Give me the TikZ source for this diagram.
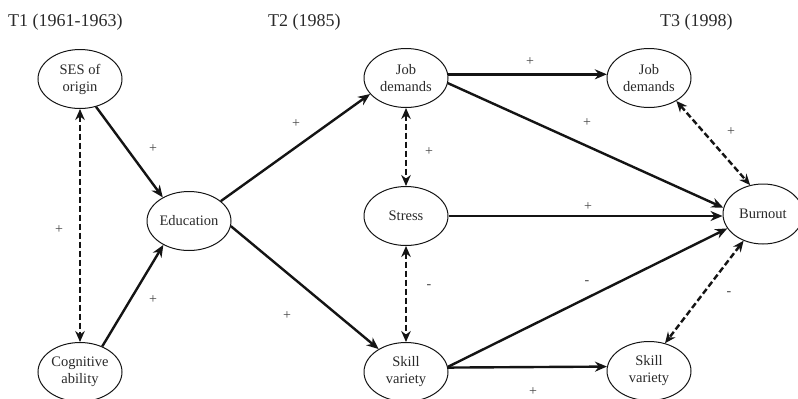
\documentclass[tikz,border=0pt]{standalone}
\usepackage{fontspec}
\setmainfont{Liberation Serif}
\usetikzlibrary{shapes.geometric,arrows.meta}
\definecolor{txt}{HTML}{2A2A2A}
\definecolor{lbl}{HTML}{444444}
\definecolor{ln}{HTML}{141414}
\tikzset{
  var/.style={ellipse,draw=ln,line width=1pt,minimum width=84pt,minimum height=59pt,inner sep=0pt,
    align=center,text=txt,font=\fontsize{14.5}{17}\selectfont},
  ttl/.style={anchor=base west,text=txt,font=\fontsize{18}{20}\selectfont,inner sep=0pt},
  lab/.style={text=lbl,font=\fontsize{14}{16}\selectfont,inner sep=0pt},
  path/.style={draw=ln,line width=2.4pt,-{Stealth[length=12pt,width=10pt]}},
  corr/.style={draw=ln,line width=2.4pt,dash pattern=on 6pt off 3pt,{Stealth[length=11pt,width=9.5pt]}-{Stealth[length=11pt,width=9.5pt]}}
}
\begin{document}
\begin{tikzpicture}[x=1pt,y=-1pt]
\useasboundingbox (0,0) rectangle (798,399);
\clip (0,0) rectangle (798,399);
\fill[white] (0,0) rectangle (798,399);
% titles
\node[ttl] (t1) at (8,26) {T1 (1961-1963)};
\node[ttl] (t2) at (268,26) {T2 (1985)};
\node[ttl] (t3) at (660,26) {T3 (1998)};
% variables
\node[var] (ses) at (80,79) {SES of\\origin};
\node[var] (cog) at (80,372) {Cognitive\\ability};
\node[var] (edu) at (189,221) {Education};
\node[var] (jd2) at (406,78) {Job\\demands};
\node[var] (str) at (406,216) {Stress};
\node[var] (sk2) at (406,372) {Skill\\variety};
\node[var] (jd3) at (649,78) {Job\\demands};
\node[var] (sk3) at (649,371) {Skill\\variety};
\node[var,minimum width=80pt,minimum height=60pt] (bur) at (763,214) {Burnout};
\coordinate (burw) at (bur.west |- str.east);
% paths
\draw[path] (ses.-60) -- (edu.138);
\draw[path] (cog.49) -- (edu.-137);
\draw[corr] (ses.south) -- (cog.north);
\draw[path] (edu.32) -- (jd2.-156);
\draw[path] (edu.-7) -- (sk2.140);
\draw[corr] (jd2.south) -- (str.north);
\draw[corr] (str.south) -- (sk2.north);
\draw[path] (jd2.5) -- (jd3.175);
\draw[path] (jd2.-7) -- (bur.171);
\draw[path] (str.east) -- (burw);
\draw[path] (sk2.7) -- (bur.-158);
\draw[path] (sk2.6) -- (sk3.174);
\draw[corr] (jd3.-40) -- (bur.114);
\draw[corr] (bur.-126) -- (sk3.60);
% labels
\node[lab] (l1) at (153,149) {+};
\node[lab] (l2) at (59,230) {+};
\node[lab] (l3) at (153,300) {+};
\node[lab] (l4) at (296,124) {+};
\node[lab] (l5) at (287,316) {+};
\node[lab] (l6) at (429,152) {+};
\node[lab] (l7) at (429,287) {-};
\node[lab] (l8) at (530,62) {+};
\node[lab] (l9) at (587,123) {+};
\node[lab] (l10) at (588,207) {+};
\node[lab] (l11) at (587,283) {-};
\node[lab] (l12) at (533,392) {+};
\node[lab] (l13) at (731,132) {+};
\node[lab] (l14) at (729,294) {-};
\end{tikzpicture}
\end{document}
